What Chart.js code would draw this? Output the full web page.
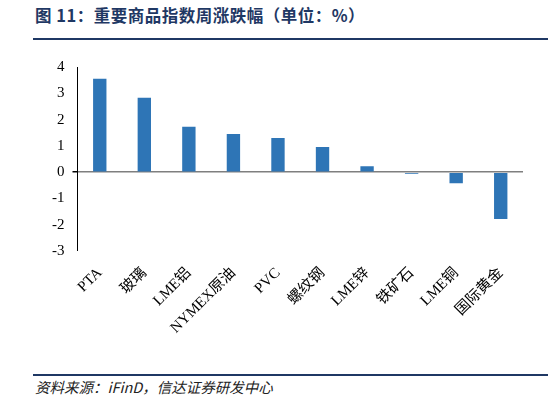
<!DOCTYPE html>
<html lang="zh">
<head>
<meta charset="UTF-8">
<script src="https://cdn.jsdelivr.net/npm/chart.js"></script>
<title>重要商品指数周涨跌幅</title>
<style>
    body { margin: 0; width: 549px; height: 399px; background: #fff; position: relative; overflow: hidden; }
    #title { position: absolute; left: 35px; top: 3px; font: bold 16.5px "Noto Sans CJK SC", sans-serif; color: #1f3864; letter-spacing: 0.5px; }
    .rule { position: absolute; left: 33px; width: 515px; height: 2px; background: #1f3864; }
    #source { position: absolute; left: 35px; top: 376px; font: italic 14.5px "Noto Sans CJK SC", sans-serif; color: #222; }
    #box { position: absolute; left: 0; top: 50px; width: 549px; height: 320px; }
</style>
</head>
<body>
<div id="title">图 11：重要商品指数周涨跌幅（单位：%）</div>
<div class="rule" style="top:38px"></div>
<div id="box"><canvas id="barChart"></canvas></div>
<div class="rule" style="top:374px"></div>
<div id="source">资料来源：iFinD，信达证券研发中心</div>

<script>
    // 商品名称
    var categories = ['PTA', '玻璃', 'LME铝', 'NYMEX原油', 'PVC', '螺纹钢', 'LME锌', '铁矿石', 'LME铜', '国际黄金'];
    // 周涨跌幅 (%)
    var changes = [3.55, 2.83, 1.73, 1.45, 1.30, 0.96, 0.23, -0.06, -0.42, -1.78];
    var yTicks = [-3, -2, -1, 0, 1, 2, 3, 4];

    var ctx = document.getElementById('barChart').getContext('2d');
    new Chart(ctx, {
        type: 'bar',
        data: {
            labels: categories,
            datasets: [{
                data: changes,
                backgroundColor: '#2e75b6',
                barPercentage: 0.3,
                categoryPercentage: 1
            }]
        },
        options: {
            responsive: true,
            maintainAspectRatio: false,
            animation: false,
            layout: { padding: { left: 44, right: 26, top: 10, bottom: 28 } },
            plugins: { legend: { display: false }, tooltip: { enabled: false } },
            scales: {
                x: {
                    grid: { display: false },
                    border: { display: false },
                    ticks: {
                        color: '#000',
                        padding: 5,
                        maxRotation: 45, minRotation: 45,
                        font: { family: '"Liberation Serif", "Noto Sans CJK SC", serif', size: 15 }
                    }
                },
                y: {
                    min: -3, max: 4,
                    afterBuildTicks: function (axis) {
                        axis.ticks = yTicks.map(function (v) { return { value: v }; });
                    },
                    border: { display: true, color: '#000', width: 1 },
                    grid: {
                        color: function (c) { return c.tick && c.tick.value === 0 ? '#7f7f7f' : 'rgba(0,0,0,0)'; },
                        lineWidth: function (c) { return c.tick && c.tick.value === 0 ? 1.5 : 0; },
                        tickColor: '#000',
                        tickLength: 5,
                        drawTicks: true
                    },
                    ticks: {
                        color: '#000',
                        padding: 8,
                        font: { family: '"Liberation Serif", serif', size: 15 }
                    }
                }
            }
        }
    });
</script>
</body>
</html>
